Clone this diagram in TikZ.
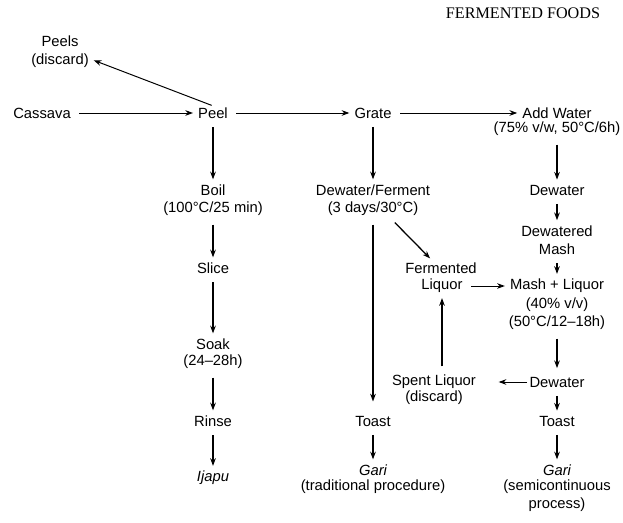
\documentclass[tikz,border=0pt]{standalone}
\usepackage{fontspec}
\setmainfont{Liberation Sans}
\newfontfamily\titlefont{Liberation Serif}
\usetikzlibrary{arrows.meta}

\begin{document}
\begin{tikzpicture}[
  x=0.025cm, y=-0.025cm,
  every node/.style={inner sep=1pt, align=center, font=\fontsize{10.5}{13}\selectfont},
  heading/.style={font=\titlefont\fontsize{11.5}{13}\selectfont},
  product/.style={font=\itshape\fontsize{10.5}{13}\selectfont},
  hflow/.style={-{Stealth[length=5.5pt,width=4pt]}, line width=0.7pt, shorten <=5pt, shorten >=2.5pt},
  vflow/.style={-{Stealth[length=5.5pt,width=4pt]}, line width=1.1pt, shorten <=5pt, shorten >=2.5pt}
]
  \useasboundingbox (0,0) rectangle (623,523);

  \node[heading] (title) at (523,13) {FERMENTED FOODS};

  % --- Top row ---
  \node (peels)     at (60,52)   {Peels\\(discard)};
  \node (cassava)   at (42,113)  {Cassava};
  \node (peel)      at (213,113) {Peel};
  \node (grate)     at (373,113) {Grate};
  \node (addw)      at (557,113) {Add Water};
  \node (addwnote)  at (557,129) {(75\% v/w, 50°C/6h)};

  % --- Ijapu column ---
  \node (boil)      at (213,190) {Boil};
  \node (boilnote)  at (213,209) {(100°C/25 min)};
  \node (slice)     at (213,268) {Slice};
  \node (soak)      at (213,344) {Soak};
  \node (soaknote)  at (213,362) {(24--28h)};
  \node (rinse)     at (213,421) {Rinse};
  \node[product] (ijapu) at (213,478) {Ijapu};

  % --- Traditional gari ---
  \node (dwf)       at (373,190) {Dewater/Ferment};
  \node (dwfnote)   at (373,209) {(3 days/30°C)};
  \node (toasta)    at (373,421) {Toast};
  \node[product] (garia) at (373,470) {Gari};
  \node (garianote) at (373,487) {(traditional procedure)};

  % --- Liquor loop ---
  \node (ferm)      at (441,268) {Fermented};
  \node (liq)       at (442,286) {Liquor};
  \node (spent)     at (434,382) {Spent Liquor};
  \node (spentnote) at (434,398) {(discard)};

  % --- Semicontinuous gari ---
  \node (dewa)      at (557,190) {Dewater};
  \node (dmash)     at (557,240) {Dewatered\\Mash};
  \node (mash)      at (557,286) {Mash + Liquor};
  \node (mashnote)  at (557,314) {(40\% v/v)\\(50°C/12--18h)};
  \node (dewb)      at (557,382) {Dewater};
  \node (toastb)    at (557,421) {Toast};
  \node[product] (garib) at (557,470) {Gari};
  \node (garibnote) at (557,496) {(semicontinuous\\process)};

  % Connectors
  \draw[hflow] (cassava) -- (peel);
  \draw[hflow, shorten <=1pt] (peel.north) -- ([yshift=-5pt]peels.east);
  \draw[hflow] (peel) -- (grate);
  \draw[hflow] (grate) -- (addw);

  \draw[vflow] (peel) -- (boil);
  \draw[vflow] (boilnote) -- (slice);
  \draw[vflow] (slice) -- (soak);
  \draw[vflow] (soaknote) -- (rinse);
  \draw[vflow] (rinse) -- (ijapu);

  \draw[vflow] (grate) -- (dwf);
  \draw[vflow, shorten >=9pt] (dwfnote) -- (toasta);
  \draw[vflow] (toasta) -- (garia);
  \draw[vflow, line width=0.9pt] ([xshift=12pt]dwfnote.south) -- ([xshift=-6pt]ferm.north);

  \draw[hflow] (liq) -- (mash);
  \draw[vflow, line width=0.9pt] (spent.north -| liq.south) -- (liq.south);

  \draw[vflow] (addwnote) -- (dewa);
  \draw[vflow] (dewa) -- (dmash);
  \draw[vflow] (dmash) -- (mash);
  \draw[vflow, shorten >=5pt] (mashnote) -- (dewb);
  \draw[hflow, shorten <=0.5pt, shorten >=15pt] (dewb) -- (spent);
  \draw[vflow] (dewb) -- (toastb);
  \draw[vflow] (toastb) -- (garib);
\end{tikzpicture}
\end{document}
